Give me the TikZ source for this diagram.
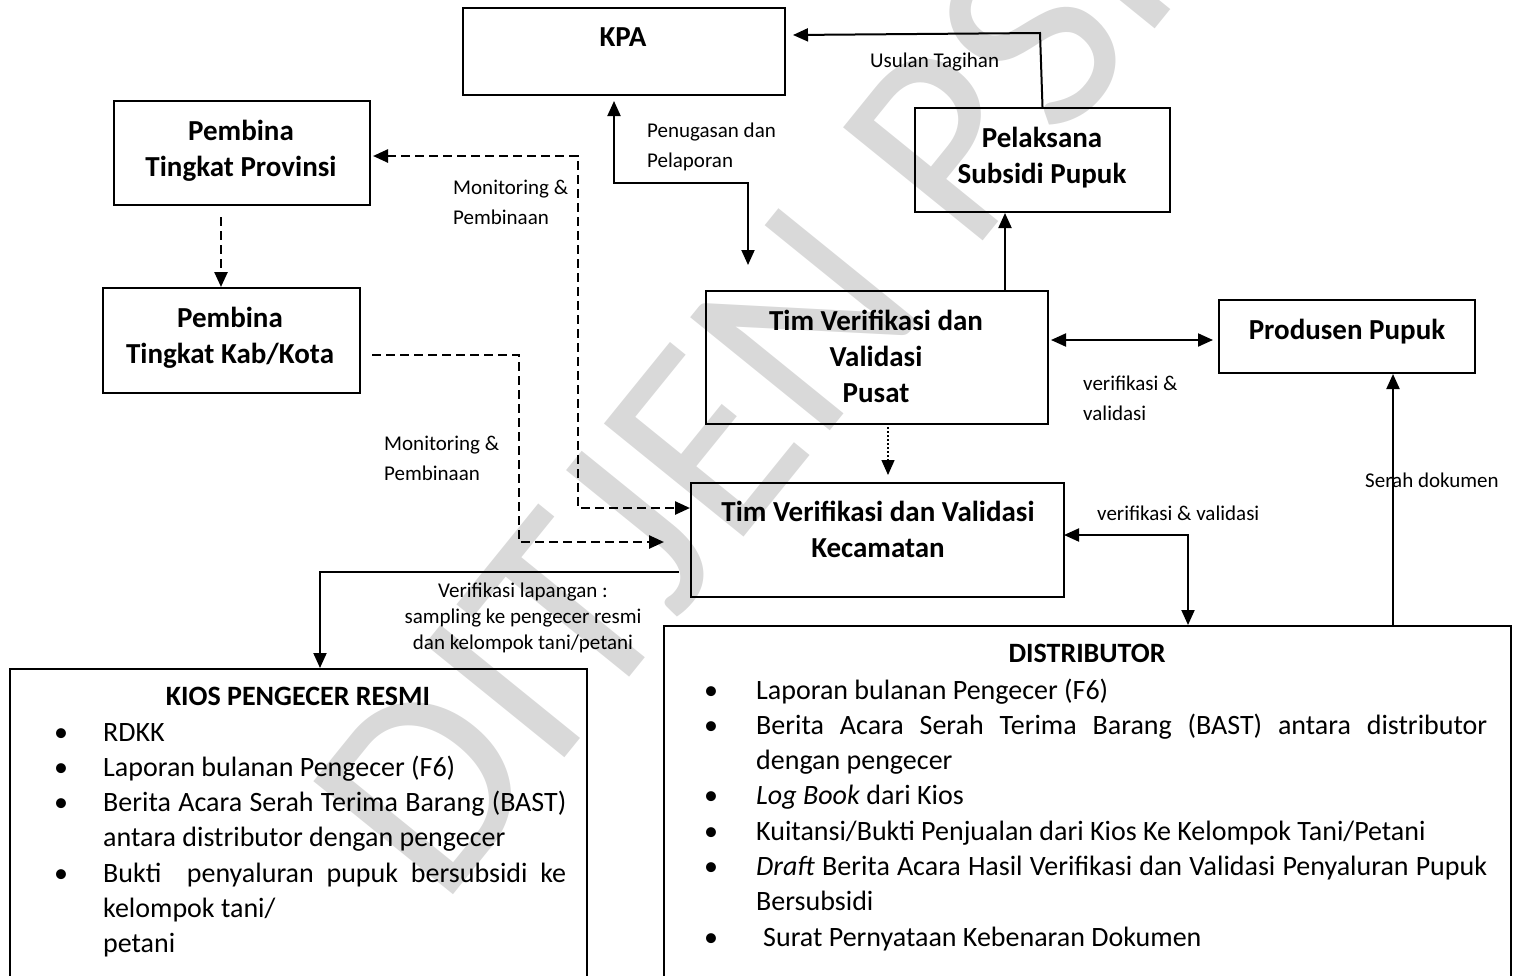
\documentclass[tikz,border=0pt]{standalone}
\usepackage{fontspec}
\setmainfont{Carlito}
\usepackage{array}
\usetikzlibrary{arrows.meta}
\hyphenpenalty=10000
\exhyphenpenalty=10000
\begin{document}
\begin{tikzpicture}[x=1pt,y=-1pt,
  >={Triangle[length=15pt,width=13pt]},
  box/.style={draw, line width=2pt, inner sep=0pt, anchor=north west},
  ttl/.style={font=\fontsize{29}{36}\selectfont\bfseries, align=center, inner sep=0pt},
  lbl/.style={font=\fontsize{21}{30}\selectfont, align=left, inner sep=0pt, anchor=west},
  conn/.style={line width=2pt},
  dsh/.style={line width=2.5pt, dash pattern=on 9pt off 5pt},
  dtd/.style={line width=1.5pt, dash pattern=on 2pt off 2pt},
  lst/.style={inner sep=0pt, anchor=base west, font=\fontsize{28}{35.3}\selectfont},
  wmark/.style={text=black!15, font=\fontsize{280}{280}\selectfont, inner sep=0pt}
]
\useasboundingbox (0,0) rectangle (1517,975);
\clip (0,0) rectangle (1517,975);

% watermark
\node[wmark, rotate=51] (wm) at (768,364) {DITJEN PSP};

% boxes
\node[box, minimum width=322pt, minimum height=87pt] (kpa) at (462,7) {};
\node[box, minimum width=256pt, minimum height=104pt] (prov) at (113,100) {};
\node[box, minimum width=257pt, minimum height=105pt] (kab) at (102,287) {};
\node[box, minimum width=255pt, minimum height=104pt] (pel) at (914,107) {};
\node[box, minimum width=342pt, minimum height=133pt] (pusat) at (705,290) {};
\node[box, minimum width=256pt, minimum height=73pt] (prod) at (1218,299) {};
\node[box, minimum width=373pt, minimum height=114pt] (kec) at (690,482) {};
\node[box, minimum width=577pt, minimum height=340pt] (kios) at (9,668) {};
\node[box, minimum width=847pt, minimum height=380pt] (dist) at (663,625) {};

% titles
\node[ttl] (kpat) at (623,37) {KPA};
\node[ttl] (provt) at (241,151) {Pembina\\Tingkat Provinsi};
\node[ttl] (kabt) at (230,338) {Pembina\\Tingkat Kab/Kota};
\node[ttl] (pelt) at (1042,158) {Pelaksana\\Subsidi Pupuk};
\node[ttl] (pusatt) at (876,356.5) {Tim Verifikasi dan\\Validasi\\Pusat};
\node[ttl] (prodt) at (1347,332) {Produsen Pupuk};
\node[ttl] (kect) at (878,529.5) {Tim Verifikasi dan Validasi\\Kecamatan};

% lists
\node[font=\fontsize{28}{35}\selectfont\bfseries, inner sep=0pt, anchor=base] (kiost) at (298,705) {KIOS PENGECER RESMI};
\node[lst] (kiosl) at (50,741) {\begin{tabular}[t]{@{}p{53pt}@{}p{463pt}@{}}
\hspace*{4pt}\textbullet & RDKK\\
\hspace*{4pt}\textbullet & Laporan bulanan Pengecer (F6)\\
\hspace*{4pt}\textbullet & Berita Acara Serah Terima Barang (BAST)\linebreak antara distributor dengan pengecer\\
\hspace*{4pt}\textbullet & Bukti\ \ penyaluran pupuk bersubsidi ke\linebreak kelompok tani/\newline petani
\end{tabular}};

\node[font=\fontsize{28}{35}\selectfont\bfseries, inner sep=0pt, anchor=base] (distt) at (1087,662) {DISTRIBUTOR};
\node[lst] (distl) at (700,699) {\begin{tabular}[t]{@{}p{56pt}@{}p{731pt}@{}}
\hspace*{4pt}\textbullet & Laporan bulanan Pengecer (F6)\\
\hspace*{4pt}\textbullet & Berita Acara Serah Terima Barang (BAST) antara distributor\linebreak dengan pengecer\\
\hspace*{4pt}\textbullet & \textit{Log Book} dari Kios\\
\hspace*{4pt}\textbullet & Kuitansi/Bukti Penjualan dari Kios Ke Kelompok Tani/Petani\\
\hspace*{4pt}\textbullet & \textit{Draft} Berita Acara Hasil Verifikasi dan Validasi Penyaluran Pupuk\linebreak Bersubsidi\\
\hspace*{4pt}\textbullet & \hspace*{7pt}Surat Pernyataan Kebenaran Dokumen
\end{tabular}};

% labels
\node[lbl] (lusul) at (870,62) {Usulan Tagihan};
\node[lbl] (lpen) at (647,147) {Penugasan dan\\Pelaporan};
\node[lbl] (lmon1) at (453,202) {Monitoring \&\\Pembinaan};
\node[lbl] (lmon2) at (384,458) {Monitoring \&\\Pembinaan};
\node[lbl] (lver1) at (1083,398) {verifikasi \&\\validasi};
\node[lbl] (lver2) at (1097,513) {verifikasi \& validasi};
\node[lbl] (lserah) at (1365,480) {Serah dokumen};
\node[font=\fontsize{21}{26}\selectfont, align=center, inner sep=0pt] (llap) at (523,618) {Verifikasi lapangan :\\sampling ke pengecer resmi\\dan kelompok tani/petani};

% connector coordinates
\coordinate (p1) at (221,217);
\coordinate (k1) at (372,355);
\coordinate (k2) at (519,355);
\coordinate (k3) at (664,542);
\coordinate (m0) at (373,156);
\coordinate (m1) at (578,156);
\coordinate (m2) at (578,508);
\coordinate (a1) at (614,101);
\coordinate (a2) at (614,183);
\coordinate (a3) at (748,183);
\coordinate (a4) at (748,265);
\coordinate (b1) at (1005,290);
\coordinate (u2) at (1040,33);
\coordinate (u3) at (793,35);
\coordinate (v1) at (1051,340);
\coordinate (v2) at (1213,340);
\coordinate (d1) at (888,423);
\coordinate (d2) at (888,475);
\coordinate (w1) at (1064,535);
\coordinate (w2) at (1188,535);
\coordinate (s1) at (1393,625);
\coordinate (f1) at (679,572);
\coordinate (f2) at (320,572);

% connectors
\draw[dsh,->] (p1) -- (p1 |- kab.north);
\draw[dsh,->] (k1) -- (k2) -- (k2 |- k3) -- (k3);
\draw[dsh,<->] (m0) -- (m1) -- (m2) -- (m2 -| kec.west);
\draw[conn,<->] (a1) -- (a2) -- (a3) -- (a4);
\draw[conn,->] (b1) -- (b1 |- pel.south);
\draw[conn,->] (pel.north) -- (u2) -- (u3);
\draw[conn,<->] (v1) -- (v2);
\draw[dtd,->] (d1) -- (d2);
\draw[conn,<->] (w1) -- (w2) -- (w2 |- dist.north);
\draw[conn,->] (s1) -- (s1 |- prod.south);
\draw[conn,->] (f1) -- (f2) -- (f2 |- kios.north);
\end{tikzpicture}
\end{document}
